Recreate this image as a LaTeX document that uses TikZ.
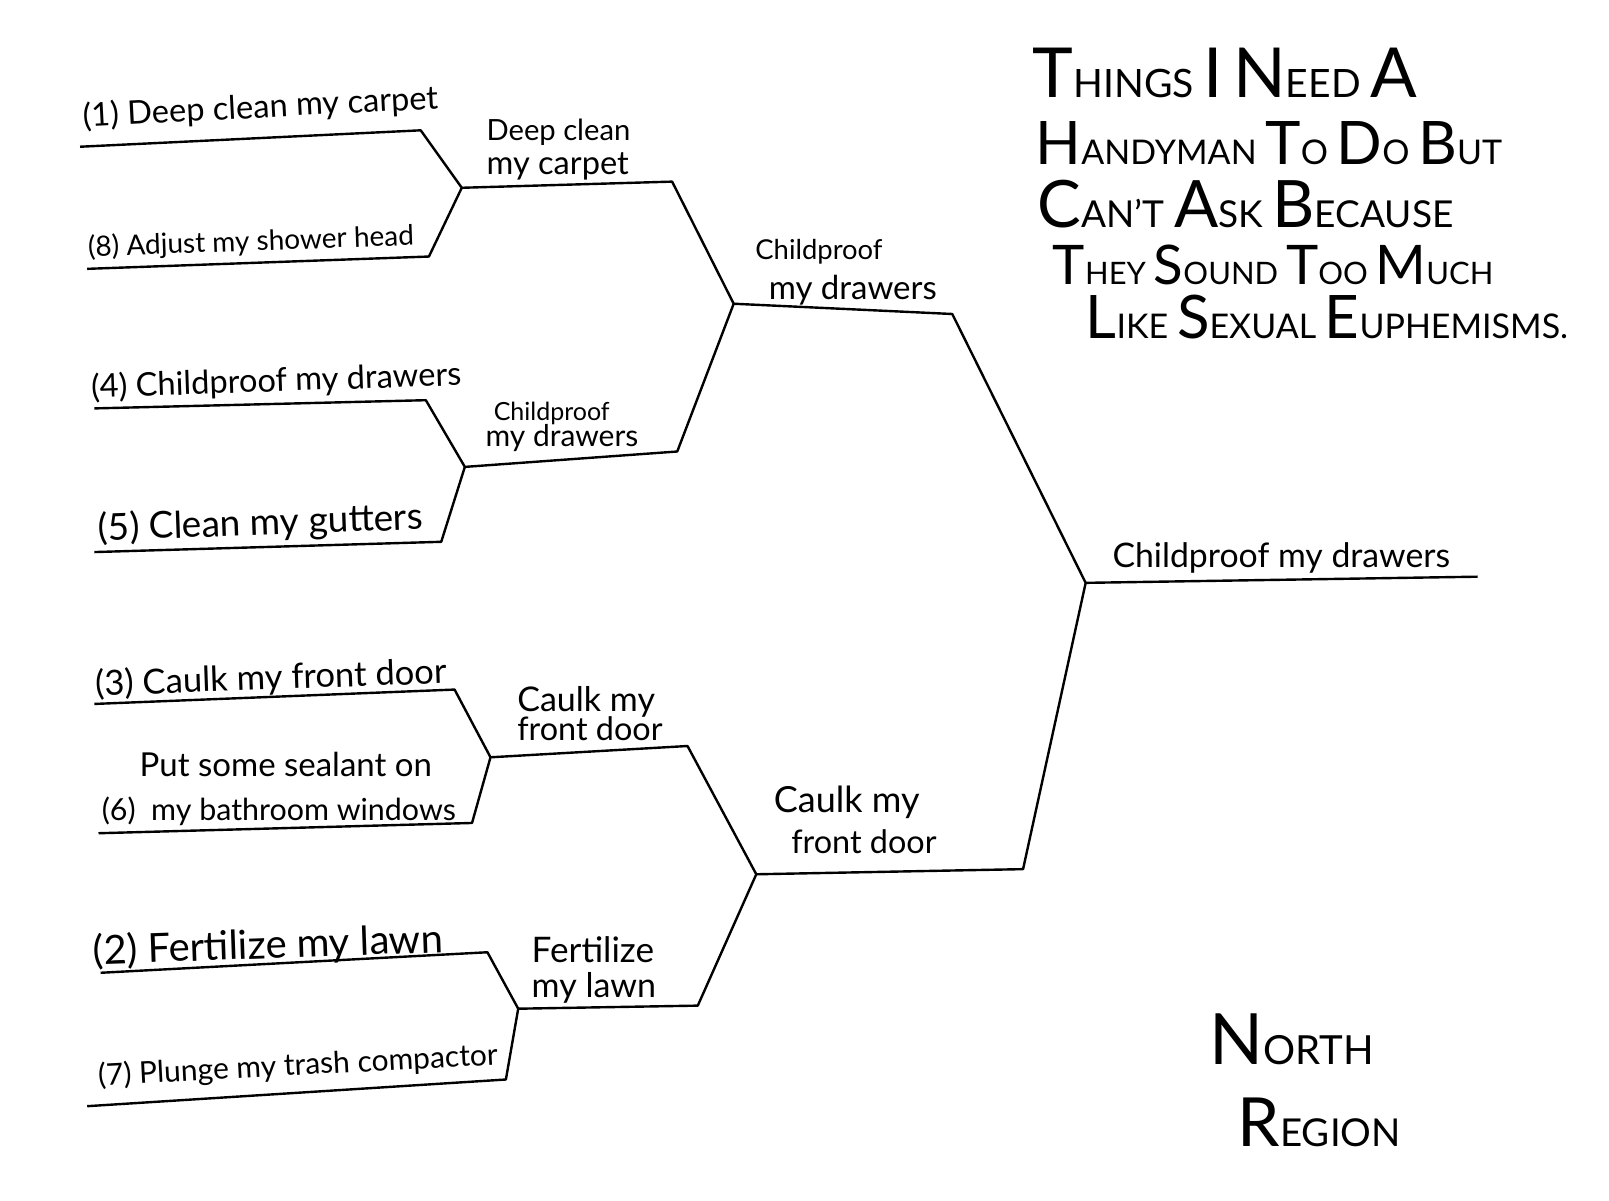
\documentclass[tikz,border=0pt]{standalone}
\usepackage{fontspec}
\setmainfont{Lato}
\newcommand\bigsmall[2]{{\fontsize{30}{30}\selectfont #1}{\fontsize{17}{17}\selectfont #2}}

\begin{document}
\begin{tikzpicture}[x=0.5131pt, y=-0.5131pt, line width=1.2pt, line join=round,
	seed/.style = {anchor=base west, inner sep=0pt, font=\fontsize{#1}{#1}\selectfont},
	seed/.default = 16,
	pick/.style = {anchor=base west, inner sep=0pt, font=\fontsize{#1}{#1}\selectfont},
	pick/.default = 15,
	title/.style = {anchor=base west, inner sep=0pt, font=\fontsize{17}{20}\selectfont}]
	\fill[white] (0,0) rectangle (1568,1170);
	\useasboundingbox (0,0) rectangle (1568,1170);
	% bracket points
	\coordinate (s1) at (78,143);   \coordinate (e1) at (410,127);
	\coordinate (s8) at (85,262);   \coordinate (e8) at (418,250);
	\coordinate (s4) at (92,398);   \coordinate (e4) at (415,390);
	\coordinate (s5) at (92,538);   \coordinate (e5) at (430,528);
	\coordinate (s3) at (92,686);   \coordinate (e3) at (443,672);
	\coordinate (s6) at (96,812);   \coordinate (e6) at (460,802);
	\coordinate (s2) at (98,948);   \coordinate (e2) at (475,928);
	\coordinate (s7) at (85,1078);  \coordinate (e7) at (493,1052);
	\coordinate (ja) at (450,183);  \coordinate (ka) at (655,177);
	\coordinate (jb) at (453,455);  \coordinate (kb) at (660,440);
	\coordinate (jc) at (478,738);  \coordinate (kc) at (670,727);
	\coordinate (jd) at (505,983);  \coordinate (kd) at (680,980);
	\coordinate (jab) at (715,296); \coordinate (kab) at (928,306);
	\coordinate (jcd) at (737,852); \coordinate (kcd) at (997,847);
	\coordinate (win) at (1058,568); \coordinate (fin) at (1440,562);
	% round one
	\draw (s1) -- (e1) -- (ja) -- (e8) -- (s8);
	\draw (s4) -- (e4) -- (jb) -- (e5) -- (s5);
	\draw (s3) -- (e3) -- (jc) -- (e6) -- (s6);
	\draw (s2) -- (e2) -- (jd) -- (e7) -- (s7);
	% round two
	\draw (ja) -- (ka) -- (jab) -- (kb) -- (jb);
	\draw (jc) -- (kc) -- (jcd) -- (kd) -- (jd);
	% round three and final
	\draw (jab) -- (kab) -- (win) -- (kcd) -- (jcd);
	\draw (win) -- (fin);
	% seeds
	\node[seed=16.3, rotate=3] (t1) at (80,124) {(1) Deep clean my carpet};
	\node[seed=14, rotate=2] (t8) at (85,250) {(8) Adjust my shower head};
	\node[seed=16.3, rotate=2] (t4) at (88,388) {(4) Childproof my drawers};
	\node[seed=18.5, rotate=2] (t5) at (95,527) {(5) Clean my gutters};
	\node[seed=17.3, rotate=2] (t3) at (92,678) {(3) Caulk my front door};
	\node[seed=16.5] (t6a) at (135,757) {Put some sealant on};
	\node[seed=15.2] (t6b) at (98,800) {(6)\ \ my bathroom windows};
	\node[seed=20, rotate=2] (t2) at (90,940) {(2) Fertilize my lawn};
	\node[seed=15, rotate=3] (t7) at (95,1058) {(7) Plunge my trash compactor};
	% winners
	\node[pick=14.6] (wa1) at (473,137) {Deep clean};
	\node[pick=16.3] (wa2) at (473,170) {my carpet};
	\node[pick=12.5] (wb1) at (480,410) {Childproof};
	\node[pick=15] (wb2) at (472,435) {my drawers};
	\node[pick=17] (wc1) at (503,693) {Caulk my};
	\node[pick=16.2] (wc2) at (503,722) {front door};
	\node[pick=17.6] (wd1) at (517,938) {Fertilize};
	\node[pick=17] (wd2) at (517,972) {my lawn};
	\node[pick=13.7] (wab1) at (735,253) {Childproof};
	\node[pick=16.5] (wab2) at (748,292) {my drawers};
	\node[pick=18] (wcd1) at (753,792) {Caulk my};
	\node[pick=16.2] (wcd2) at (770,832) {front door};
	\node[seed=16.9] (champ) at (1083,553) {Childproof my drawers};
	% title
	\node[title, scale=1.15] (h1) at (1005,95) {\bigsmall{T}{HINGS}\ \bigsmall{I}{}\ \bigsmall{N}{EED} \bigsmall{A}{}};
	\node[title] (h2) at (1008,160) {\bigsmall{H}{ANDYMAN} \bigsmall{T}{O} \bigsmall{D}{O} \bigsmall{B}{UT}};
	\node[title, scale=1.09] (h3) at (1010,222) {\bigsmall{C}{AN'T} \bigsmall{A}{SK} \bigsmall{B}{ECAUSE}};
	\node[title, scale=0.91] (h4) at (1025,277) {\bigsmall{T}{HEY} \bigsmall{S}{OUND} \bigsmall{T}{OO} \bigsmall{M}{UCH}};
	\node[title] (h5) at (1057,330) {\bigsmall{L}{IKE} \bigsmall{S}{EXUAL} \bigsmall{E}{UPHEMISMS.}};
	\node[title, scale=1.18] (n1) at (1177,1037) {\bigsmall{N}{ORTH}};
	\node[title, scale=1.13] (n2) at (1205,1117) {\bigsmall{R}{EGION}};
\end{tikzpicture}
\end{document}
